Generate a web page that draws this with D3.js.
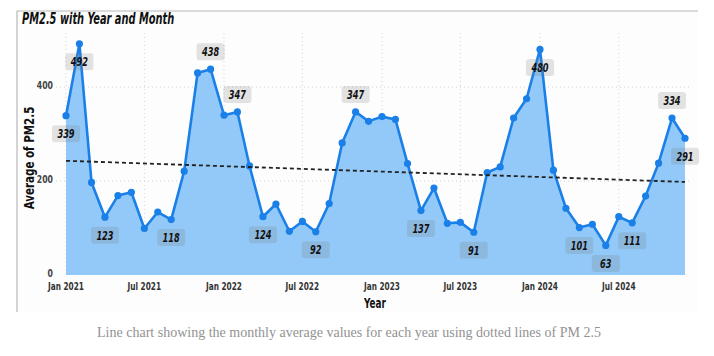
<!DOCTYPE html>
<html>
<head>
<meta charset="utf-8">
<script src="https://cdn.jsdelivr.net/npm/d3@7"></script>
<style>
  html, body { margin: 0; padding: 0; background: #ffffff; }
  svg { display: block; }
</style>
</head>
<body>
<script>
// ---- data ----
const months = [
  "2021-01","2021-02","2021-03","2021-04","2021-05","2021-06","2021-07","2021-08","2021-09","2021-10","2021-11","2021-12",
  "2022-01","2022-02","2022-03","2022-04","2022-05","2022-06","2022-07","2022-08","2022-09","2022-10","2022-11","2022-12",
  "2023-01","2023-02","2023-03","2023-04","2023-05","2023-06","2023-07","2023-08","2023-09","2023-10","2023-11","2023-12",
  "2024-01","2024-02","2024-03","2024-04","2024-05","2024-06","2024-07","2024-08","2024-09","2024-10","2024-11","2024-12"
];
const pm25 = [
  339, 492, 197, 123, 169, 176,  99, 134, 118, 221, 430, 438,
  340, 347, 232, 124, 151,  93, 114,  92, 152, 281, 347, 327,
  337, 331, 237, 137, 185, 110, 112,  91, 218, 230, 334, 375,
  480, 223, 142, 101, 108,  63, 124, 111, 168, 238, 334, 291
];
// data labels shown in the chart
const labelledMonths = ["2021-01","2021-02","2021-04","2021-09","2021-12","2022-02","2022-04","2022-08","2022-11",
                        "2023-04","2023-08","2024-01","2024-04","2024-06","2024-08","2024-11","2024-12"];
const labelsAbove = ["2021-12","2022-02","2022-11","2024-11"];
// trend line end values (first and last month)
const trendValues = [243, 198];
const yTicks = [0, 200, 400];

const title = "PM2.5 with Year and Month";
const xTitle = "Year";
const yTitle = "Average of PM2.5";
const caption = "Line chart showing the monthly average values for each year using dotted lines of PM 2.5";

// ---- drawing ----
const W = 714, H = 356;
const COND = '"DejaVu Sans Condensed", "Liberation Sans Narrow", "Roboto Condensed", Roboto, sans-serif';
const parse = d3.timeParse("%Y-%m");
const data = months.map((m, i) => ({ m, date: parse(m), v: pm25[i] }));

// narrow the glyphs to imitate a DIN-like condensed face
function condense(sel, f) {
  sel.each(function () {
    const len = this.getComputedTextLength();
    d3.select(this).attr("textLength", len * f).attr("lengthAdjust", "spacingAndGlyphs");
  });
}

const svg = d3.select("body").append("svg").attr("width", W).attr("height", H);

// frame
svg.append("rect").attr("x", 17).attr("y", 11).attr("width", 681).attr("height", 301).attr("fill", "#fdfdfd");
svg.append("path").attr("d", "M17,312 L17,11 L698,11").attr("fill", "none").attr("stroke", "#b8b8b8").attr("stroke-width", 1.2);

const x = d3.scaleTime().domain([data[0].date, data[data.length - 1].date]).range([66, 685]);
const y = d3.scaleLinear().domain([0, 520]).range([275, 275 - 520 * 0.47]);

// gridlines
const xTickVals = d3.timeMonth.every(6).range(data[0].date, d3.timeMonth.offset(data[data.length - 1].date, 1));
svg.append("g").selectAll("line").data(xTickVals).join("line")
  .attr("x1", d => x(d)).attr("x2", d => x(d)).attr("y1", 33).attr("y2", 275)
  .attr("stroke", "#d0d0d0").attr("stroke-width", 1).attr("stroke-dasharray", "1,3");
svg.append("g").selectAll("line").data(yTicks.filter(t => t > 0)).join("line")
  .attr("x1", 56).attr("x2", 692).attr("y1", d => y(d)).attr("y2", d => y(d))
  .attr("stroke", "#d0d0d0").attr("stroke-width", 1).attr("stroke-dasharray", "1,3");

// area + line
const area = d3.area().x(d => x(d.date)).y0(y(0)).y1(d => y(d.v));
svg.append("path").datum(data).attr("d", area).attr("fill", "#93c9f8");
const line = d3.line().x(d => x(d.date)).y(d => y(d.v));
svg.append("path").datum(data).attr("d", line).attr("fill", "none")
  .attr("stroke", "#1a80e8").attr("stroke-width", 2.6).attr("stroke-linejoin", "round");
svg.append("g").selectAll("circle").data(data).join("circle")
  .attr("cx", d => x(d.date)).attr("cy", d => y(d.v)).attr("r", 3.6).attr("fill", "#1a80e8");

// trend line
svg.append("line")
  .attr("x1", x(data[0].date)).attr("y1", y(trendValues[0]))
  .attr("x2", x(data[data.length - 1].date)).attr("y2", y(trendValues[1]))
  .attr("stroke", "#222").attr("stroke-width", 1.8).attr("stroke-dasharray", "4,3");

// data labels
const lab = svg.append("g").selectAll("g").data(data.filter(d => labelledMonths.includes(d.m))).join("g")
  .attr("transform", d => `translate(${x(d.date)},${y(d.v) + (labelsAbove.includes(d.m) ? -17.5 : 18)})`);
lab.append("rect").attr("x", -14).attr("y", -8.5).attr("width", 28).attr("height", 17).attr("rx", 3)
  .attr("fill", "rgba(120,120,120,0.2)");
lab.append("text").attr("text-anchor", "middle").attr("dy", "0.36em")
  .attr("font-family", COND).attr("font-weight", "bold").attr("font-style", "italic")
  .attr("font-size", 12).attr("fill", "#111").text(d => d.v)
  .call(condense, 0.76);

// axes labels
svg.append("g").selectAll("text").data(yTicks).join("text")
  .attr("x", 53).attr("y", d => y(d) - 1).attr("dy", "0.32em").attr("text-anchor", "end")
  .attr("font-family", COND).attr("font-weight", "bold").attr("font-size", 10.5).attr("fill", "#444")
  .text(d => d).call(condense, 0.82);
const fmt = d3.timeFormat("%b %Y");
svg.append("g").selectAll("text").data(xTickVals).join("text")
  .attr("x", d => x(d)).attr("y", 290).attr("text-anchor", "middle")
  .attr("font-family", COND).attr("font-weight", "bold").attr("font-size", 10.5).attr("fill", "#333")
  .text(d => fmt(d)).call(condense, 0.78);

svg.append("text").attr("x", 375).attr("y", 308).attr("text-anchor", "middle")
  .attr("font-family", COND).attr("font-weight", "bold").attr("font-size", 14).attr("fill", "#111").text(xTitle)
  .call(condense, 0.7);
svg.append("text").attr("transform", "translate(34,158) rotate(-90)").attr("text-anchor", "middle")
  .attr("font-family", COND).attr("font-weight", "bold").attr("font-size", 13.5).attr("fill", "#111").text(yTitle)
  .call(condense, 0.85);

svg.append("text").attr("x", 22).attr("y", 24)
  .attr("font-family", COND).attr("font-weight", "bold").attr("font-style", "italic")
  .attr("font-size", 15).attr("fill", "#111").text(title)
  .call(condense, 0.73);

svg.append("text").attr("x", 349).attr("y", 337).attr("text-anchor", "middle")
  .attr("font-family", '"Liberation Serif", "DejaVu Serif", serif').attr("font-size", 14).attr("fill", "#929292")
  .text(caption);
</script>
</body>
</html>
